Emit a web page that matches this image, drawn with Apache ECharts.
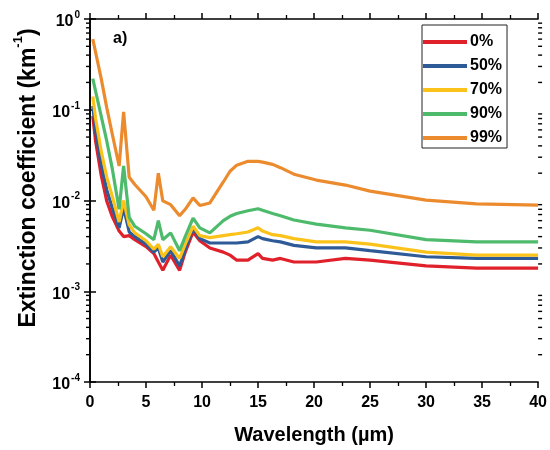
<!DOCTYPE html>
<html>
<head>
<meta charset="utf-8">
<script src="https://cdn.jsdelivr.net/npm/echarts@6/dist/echarts.min.js"></script>
<style>html,body{margin:0;padding:0;background:#fff}#c{width:550px;height:450px}</style>
</head>
<body>
<div id="c"></div>
<script>
// Wavelength (µm)
const wavelength = [0.25, 0.5, 1.0, 1.5, 2.0, 2.6, 3.0, 3.5, 4.0, 5.0, 5.7, 6.1, 6.5, 7.2, 8.0, 8.5, 9.2, 9.8, 10.7, 11.9, 12.5, 13.1, 14.1, 15.0, 15.4, 16.3, 17.0, 18.2, 20.2, 22.8, 25.0, 30.0, 34.5, 40.0];
const seriesNames = ['0%', '50%', '70%', '90%', '99%'];
const rh0  = [0.085, 0.045, 0.019, 0.0098, 0.0066, 0.0046, 0.0040, 0.0041, 0.0037, 0.0031, 0.0026, 0.0021, 0.0017, 0.0025, 0.0017, 0.0027, 0.0045, 0.0036, 0.0030, 0.0027, 0.0025, 0.0022, 0.0022, 0.0026, 0.0023, 0.0022, 0.0023, 0.0021, 0.0021, 0.0023, 0.0022, 0.0019, 0.0018, 0.0018];
const rh50 = [0.11, 0.058, 0.025, 0.013, 0.0082, 0.0050, 0.0083, 0.0045, 0.0040, 0.0033, 0.0027, 0.0030, 0.0021, 0.0028, 0.0019, 0.0029, 0.0050, 0.0038, 0.0034, 0.0034, 0.0034, 0.0034, 0.0035, 0.0040, 0.0038, 0.0036, 0.0035, 0.0032, 0.0030, 0.0030, 0.0028, 0.0024, 0.0023, 0.0023];
const rh70 = [0.14, 0.08, 0.035, 0.018, 0.011, 0.0058, 0.0100, 0.0054, 0.0044, 0.0036, 0.0029, 0.0033, 0.0024, 0.0031, 0.0023, 0.0033, 0.0052, 0.0041, 0.0039, 0.0041, 0.0042, 0.0043, 0.0045, 0.0050, 0.0046, 0.0042, 0.0041, 0.0038, 0.0035, 0.0035, 0.0033, 0.0027, 0.0025, 0.0025];
const rh90 = [0.22, 0.16, 0.085, 0.045, 0.022, 0.0080, 0.024, 0.0065, 0.0052, 0.0043, 0.0037, 0.0060, 0.0037, 0.0044, 0.0028, 0.0040, 0.0064, 0.0050, 0.0044, 0.0060, 0.0067, 0.0072, 0.0077, 0.0081, 0.0078, 0.0072, 0.0068, 0.0061, 0.0055, 0.0050, 0.0047, 0.0037, 0.0035, 0.0035];
const rh99 = [0.6, 0.43, 0.22, 0.105, 0.053, 0.024, 0.095, 0.018, 0.015, 0.011, 0.0078, 0.020, 0.0099, 0.0090, 0.0068, 0.0080, 0.0107, 0.0088, 0.0094, 0.0160, 0.021, 0.0245, 0.027, 0.027, 0.0265, 0.025, 0.023, 0.0195, 0.0168, 0.0148, 0.0127, 0.0101, 0.0092, 0.0089];
const colors = ['#e0202a', '#2e5a97', '#fbc21a', '#4dbb6b', '#ec8b2e'];
const xTicks = [0, 5, 10, 15, 20, 25, 30, 35, 40];
const yDecades = [-4, -3, -2, -1, 0];

const FONT = '"Liberation Sans", Arial, sans-serif';
const allValues = [rh0, rh50, rh70, rh90, rh99];

// log minor tick values (2..9 x 10^n)
const minorTickValues = [];
for (let d = -4; d < 0; d++) for (let m = 2; m <= 9; m++) minorTickValues.push(m * Math.pow(10, d));

const supRich = {
  b: {fontFamily: FONT, fontSize: 16, fontWeight: 'bold', color: '#000', lineHeight: 22, verticalAlign: 'bottom'},
  s: {fontFamily: FONT, fontSize: 10, fontWeight: 'bold', color: '#000', lineHeight: 22, verticalAlign: 'top', padding: [2, 0, 0, 1]}
};

const lineSeries = seriesNames.map((n, i) => ({
  name: n, type: 'line', xAxisIndex: 0, yAxisIndex: 0,
  data: wavelength.map((w, k) => [w, allValues[i][k]]),
  showSymbol: false, symbol: 'none',
  lineStyle: {width: 3.2, color: colors[i]},
  itemStyle: {color: colors[i]},
  z: 3 + i
}));

// minor ticks on left and right log axes, as tiny dash symbols placed by the axes' scales
const tickSeries = [
  {x: 0, off: -2}, {x: 40, off: 2}
].map(t => ({
  name: '_minor' + t.x, type: 'scatter', xAxisIndex: 0, yAxisIndex: 0, silent: true, clip: false,
  data: minorTickValues.map(v => [t.x, v]),
  symbol: 'rect', symbolSize: [4, 1.4], symbolOffset: [t.off, 0],
  itemStyle: {color: '#000', opacity: 1}, z: 20,
  emphasis: {disabled: true}, tooltip: {show: false}
}));

const axisLine = {show: true, lineStyle: {color: '#000', width: 1.6}};
const majorTick = {show: true, inside: false, length: 6, lineStyle: {color: '#000', width: 1.5}};
const minorTickX = {show: true, inside: false, splitNumber: 2, length: 4, lineStyle: {color: '#000', width: 1.3}};
const chart = echarts.init(document.getElementById('c'), null, {renderer: 'canvas'});
chart.setOption({
  animation: false,
  backgroundColor: '#fff',
  title: {text: 'a)', left: 108, top: 26, textStyle: {fontFamily: FONT, fontSize: 16, fontWeight: 'bold', color: '#000'}},
  grid: {left: 90, right: 9, top: 19, bottom: 67},
  legend: {
    data: seriesNames, orient: 'vertical', left: 422, top: 25,
    icon: 'rect', itemWidth: 44, itemHeight: 4, itemGap: 8,
    padding: [9, 5, 2, 1], borderColor: '#222', borderWidth: 1,
    textStyle: {fontFamily: FONT, fontSize: 16, fontWeight: 'bold', color: '#000', padding: [0, 0, 0, -2]}
  },
  xAxis: [
    {type: 'value', position: 'bottom', min: 0, max: 40, interval: 5,
     name: 'Wavelength (\u00b5m)', nameLocation: 'middle', nameGap: 43,
     nameTextStyle: {fontFamily: FONT, fontSize: 20, fontWeight: 'bold', color: '#000'},
     axisLine: axisLine, splitLine: {show: false},
     axisTick: majorTick, minorTick: minorTickX,
     axisLabel: {fontFamily: FONT, fontSize: 16, fontWeight: 'bold', color: '#000', margin: 13,
       formatter: v => (xTicks.indexOf(v) >= 0 ? String(v) : '')}},
    {type: 'value', position: 'top', min: 0, max: 40, interval: 5,
     axisLine: axisLine, splitLine: {show: false},
     axisTick: majorTick, minorTick: minorTickX,
     axisLabel: {show: false}}
  ],
  yAxis: [
    {type: 'log', logBase: 10, min: 1e-4, max: 1, position: 'left',
     axisLine: axisLine, splitLine: {show: false},
     axisTick: majorTick, minorTick: {show: false},
     axisLabel: {margin: 10, rich: supRich,
       formatter: v => {
         const e = Math.round(Math.log10(v));
         return yDecades.indexOf(e) >= 0 ? '{b|10}{s|' + e + '}' : '';
       }}},
    {type: 'log', logBase: 10, min: 1e-4, max: 1, position: 'right',
     axisLine: axisLine, splitLine: {show: false},
     axisTick: majorTick, minorTick: {show: false},
     axisLabel: {show: false}}
  ],
  graphic: {elements: [{
    type: 'text', silent: true, z: 100,
    x: 26, y: 178, rotation: Math.PI / 2,
    style: {
      text: '{t|Extinction coefficient (km}{s|-1}{t|)}',
      align: 'center', verticalAlign: 'middle',
      rich: {
        t: {fontFamily: FONT, fontSize: 23, fontWeight: 'bold', fill: '#000', lineHeight: 28, verticalAlign: 'bottom'},
        s: {fontFamily: FONT, fontSize: 13, fontWeight: 'bold', fill: '#000', lineHeight: 28, verticalAlign: 'top'}
      }
    }
  }]},
  series: lineSeries.concat(tickSeries)
});
</script>
</body>
</html>
